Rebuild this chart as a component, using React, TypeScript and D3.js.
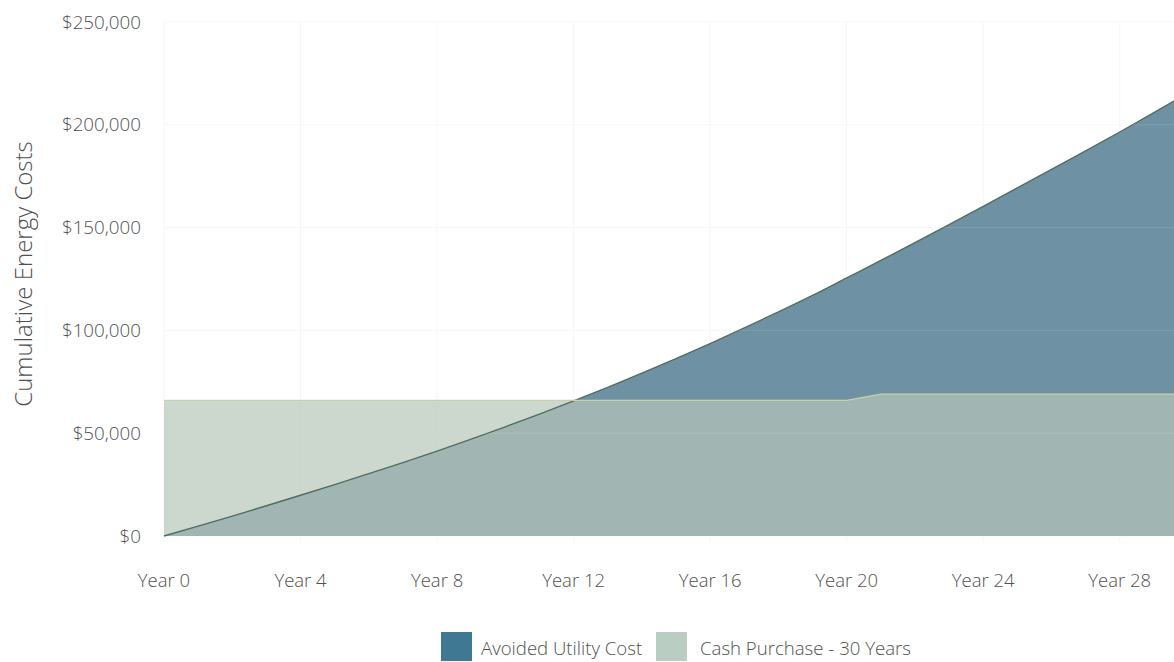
import React from "react";
import * as d3 from "d3";

const years: number[] = [0,1,2,3,4,5,6,7,8,9,10,11,12,13,14,15,16,17,18,19,20,21,22,23,24,25,26,27,28,29,30];
const avoidedUtilityCost: number[] = [
  0, 4800, 9700, 14700, 19800, 25000, 30300, 35700, 41300, 47100, 53100, 59300, 65700,
  72300, 79200, 86300, 93600, 101200, 109000, 117000, 125500, 134000, 142700, 151500,
  160300, 169300, 178300, 187300, 196500, 205900, 215500,
];
const cashPurchase: number[] = [
  66000, 66000, 66000, 66000, 66000, 66000, 66000, 66000, 66000, 66000, 66000, 66000, 66000,
  66000, 66000, 66000, 66000, 66000, 66000, 66000, 66000, 69000, 69000, 69000,
  69000, 69000, 69000, 69000, 69000, 69000, 69000,
];
const yTicks: number[] = [0, 50000, 100000, 150000, 200000, 250000];
const xTicks: number[] = [0, 4, 8, 12, 16, 20, 24, 28];
const seriesNames: string[] = ["Avoided Utility Cost", "Cash Purchase - 30 Years"];

const W = 1174;
const H = 662;
const FONT = "'Open Sans', 'Noto Sans', sans-serif";
const TEXT = "#4f4f4f";

export default function App() {
  const x = d3.scaleLinear().domain([0, 30]).range([164, 1188]);
  const y = d3.scaleLinear().domain([0, 250000]).range([536, 22]);
  const fmt = d3.format("$,.0f");

  const avoidedArea = d3
    .area<number>()
    .x((_, i) => x(years[i]))
    .y0(y(0))
    .y1((d) => y(d))
    .curve(d3.curveMonotoneX);
  const avoidedLine = d3
    .line<number>()
    .x((_, i) => x(years[i]))
    .y((d) => y(d))
    .curve(d3.curveMonotoneX);
  const cashArea = d3
    .area<number>()
    .x((_, i) => x(years[i]))
    .y0(y(0))
    .y1((d) => y(d));
  const cashLine = d3
    .line<number>()
    .x((_, i) => x(years[i]))
    .y((d) => y(d));

  return (
    <svg
      width={W}
      height={H}
      style={{ position: "absolute", left: 0, top: 0, background: "#fff" }}
      fontFamily={FONT}
    >
      <defs>
        <clipPath id="plotclip">
          <rect x={0} y={0} width={W} height={H} />
        </clipPath>
      </defs>
      <g>
        {yTicks.map((t) => (
          <line key={"gy" + t} x1={x(0)} x2={W} y1={y(t)} y2={y(t)} stroke="#f7f7f7" strokeWidth={1} />
        ))}
        {xTicks.map((t) => (
          <line key={"gx" + t} x1={x(t)} x2={x(t)} y1={y(250000)} y2={y(0) + 6} stroke="#f5f5f5" strokeWidth={1} />
        ))}
      </g>
      <g clipPath="url(#plotclip)">
        <path d={avoidedArea(avoidedUtilityCost) || ""} fill="#6e92a4" />
        <path d={cashArea(cashPurchase) || ""} fill="#b6c6b9" fillOpacity={0.7} />
        <path d={avoidedLine(avoidedUtilityCost) || ""} fill="none" stroke="#4f6e60" strokeWidth={1.4} />
        <path d={cashLine(cashPurchase) || ""} fill="none" stroke="#c6d2a4" strokeWidth={1.2} />
        {yTicks.filter((t) => t > 0).map((t) => (
          <line key={"gyo" + t} x1={x(0)} x2={W} y1={y(t)} y2={y(t)} stroke="#ffffff" strokeOpacity={0.12} strokeWidth={1} />
        ))}
      </g>
      <g>
        {yTicks.map((t) => (
          <text
            key={"yl" + t}
            x={141}
            y={y(t)}
            dy="0.35em"
            textAnchor="end"
            fontSize={18.8}
            fill={TEXT}
            fontWeight={300}
          >
            {fmt(t)}
          </text>
        ))}
      </g>
      <g>
        {xTicks.map((t) => (
          <text
            key={"xl" + t}
            x={x(t)}
            y={581}
            dy="0.35em"
            textAnchor="middle"
            fontSize={18.5}
            fill={TEXT}
            fontWeight={300}
          >
            {"Year " + t}
          </text>
        ))}
      </g>
      <text
        transform={`translate(24, 274) rotate(-90)`}
        textAnchor="middle"
        dy="0.35em"
        fontSize={24}
        fontWeight={300}
        fill={TEXT}
      >
        Cumulative Energy Costs
      </text>
      <g>
        <rect x={441} y={632} width={31} height={29} fill="#3f7892" />
        <text x={481} y={648} dy="0.35em" fontSize={18.6} fill={TEXT} fontWeight={300}>
          {seriesNames[0]}
        </text>
        <rect x={656} y={632} width={31} height={29} fill="#b9cdc2" />
        <text x={700} y={648} dy="0.35em" fontSize={18.6} fill={TEXT} fontWeight={300}>
          {seriesNames[1]}
        </text>
      </g>
    </svg>
  );
}
